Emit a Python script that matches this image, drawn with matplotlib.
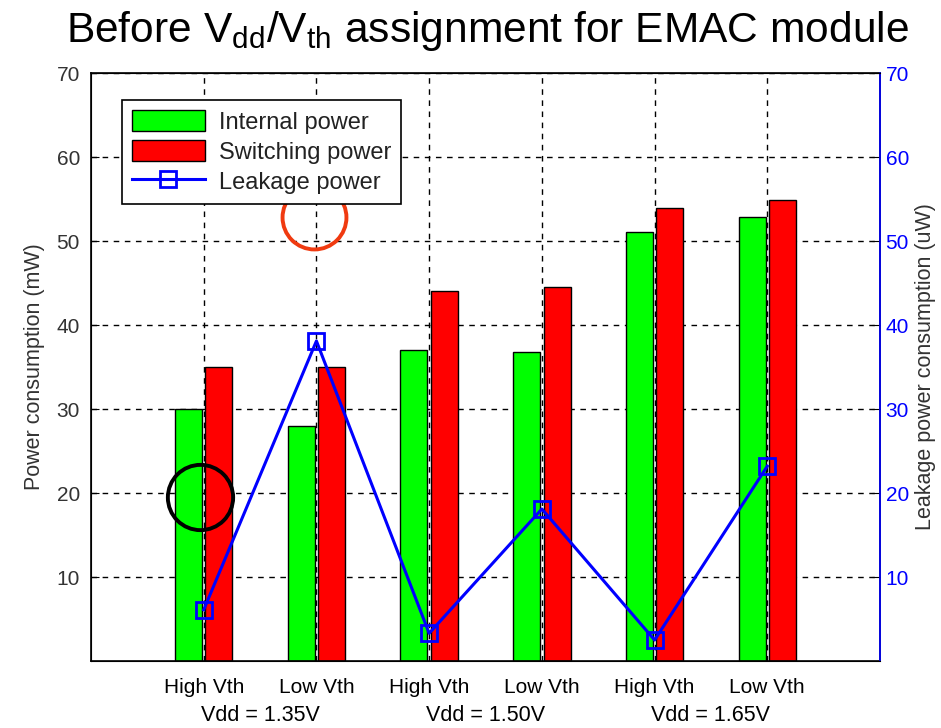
import matplotlib.pyplot as plt
import numpy as np

plt.rcParams['font.family'] = ['Liberation Sans', 'DejaVu Sans']

# datos
categorias = ['High Vth', 'Low Vth', 'High Vth', 'Low Vth', 'High Vth', 'Low Vth']
grupos_vdd = ['Vdd = 1.35V', 'Vdd = 1.50V', 'Vdd = 1.65V']
potencia_interna = [30.0, 28.0, 37.0, 36.8, 51.1, 52.9]
potencia_conmutacion = [35.0, 35.0, 44.0, 44.5, 53.9, 54.9]
potencia_fuga = [6.1, 38.1, 3.3, 18.1, 2.5, 23.2]

x = np.arange(1, len(categorias) + 1)
ancho = 0.24
gris = '#333333'

fig = plt.figure(figsize=(9.41, 7.28), dpi=100)
ax = fig.add_axes([0.0967, 0.092, 0.8385, 0.8077])

b1 = ax.bar(x - 0.135, potencia_interna, ancho, color='#00ff00', edgecolor='black',
            linewidth=1, label='Internal power', zorder=2)
b2 = ax.bar(x + 0.135, potencia_conmutacion, ancho, color='#ff0000', edgecolor='black',
            linewidth=1, label='Switching power', zorder=2)

ax.set_xlim(0, 7)
ax.set_ylim(0, 70)
ax.set_yticks(np.arange(10, 71, 10))
ax.set_xticks(x)
ax.set_xticklabels(categorias, fontsize=15, color='black')
ax.tick_params(axis='x', length=0, pad=12)
ax.tick_params(axis='y', direction='in', length=6, labelsize=15, labelcolor=gris, pad=8)
ax.grid(True, linestyle=(0, (4, 4)), color='black', linewidth=1, zorder=1)
ax.set_axisbelow(True)
ax.set_ylabel('Power consumption (mW)', fontsize=15.5, color=gris, labelpad=8)
for s in ax.spines.values():
    s.set_linewidth(1.2)

# grupos de Vdd debajo de las etiquetas
for i, g in enumerate(grupos_vdd):
    ax.text(1.5 + 2 * i, -0.092, g, transform=ax.get_xaxis_transform(),
            ha='center', va='center', fontsize=15.5)

# eje derecho para la potencia de fuga
ax2 = ax.twinx()
ax2.set_ylim(0, 70)
ax2.set_yticks(np.arange(10, 71, 10))
l1, = ax2.plot(x, potencia_fuga, color='#0000ff', linewidth=2.2, marker='s', markersize=12,
               markerfacecolor='none', markeredgewidth=2, label='Leakage power', zorder=3)
ax2.tick_params(axis='y', direction='in', length=6, labelsize=15, labelcolor='#0000ff',
                color='black', pad=4)
ax2.spines['right'].set_color('#0000ff')
ax2.spines['right'].set_linewidth(1.2)
ax2.set_ylabel('Leakage power consumption (uW)', fontsize=15.5, color=gris, labelpad=4)

# circulos de anotacion
ax2.plot([0.966], [19.5], marker='o', markersize=47, markerfacecolor='none',
         markeredgecolor='black', markeredgewidth=2.8, zorder=5)
ax2.plot([1.98], [52.8], marker='o', markersize=46, markerfacecolor='none',
         markeredgecolor='#f03a10', markeredgewidth=2.8, zorder=5)

leg = ax2.legend([b1, b2, l1], ['Internal power', 'Switching power', 'Leakage power'],
                 loc='upper left', bbox_to_anchor=(0.039, 0.954), borderaxespad=0,
                 fontsize=17, frameon=True, fancybox=False, edgecolor='black', framealpha=1,
                 handlelength=3.1, handleheight=1.0, handletextpad=0.6,
                 labelspacing=0.27, borderpad=0.42)
leg.get_frame().set_linewidth(1.2)
for t in leg.get_texts():
    t.set_color('#222222')

fig.text(0.518, 0.942, r'Before V$_{\mathregular{dd}}$/V$_{\mathregular{th}}$ assignment for EMAC module',
         ha='center', va='baseline', fontsize=30.6)

plt.savefig('out.png', dpi=100)
